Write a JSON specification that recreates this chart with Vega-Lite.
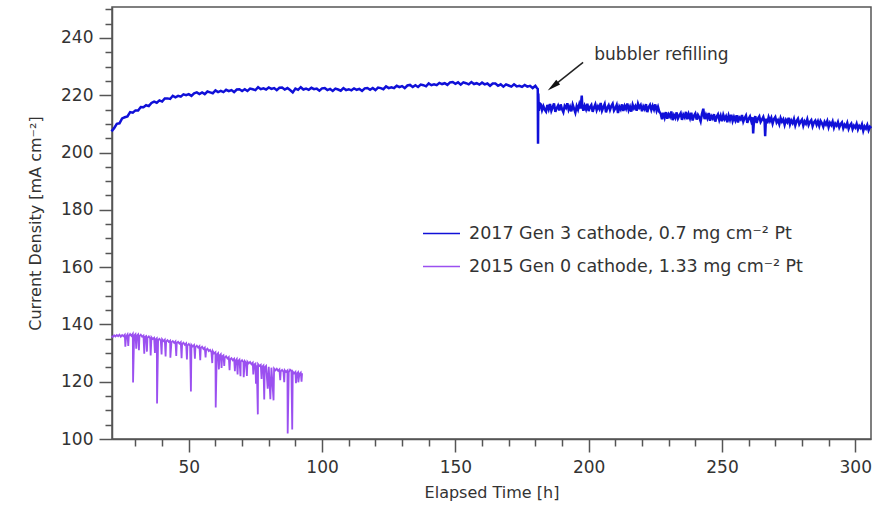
{
  "$schema": "https://vega.github.io/schema/vega-lite/v6.json",
  "width": 759,
  "height": 432,
  "autosize": "none",
  "padding": {"left": 112, "top": 7, "right": 3, "bottom": 68},
  "background": "white",
  "config": {
    "font": "DejaVu Sans",
    "view": {"stroke": "#555555", "strokeWidth": 1.5},
    "axis": {"domainColor": "#555555", "domainWidth": 1.5, "tickColor": "#555555", "tickWidth": 1.5, "grid": false, "labelColor": "#333333", "titleColor": "#333333", "labelFont": "DejaVu Sans", "titleFont": "DejaVu Sans", "titleFontWeight": "normal"}
  },
  "datasets": {
    "gen3": [
      {"t":21,"v":207.4},{"t":22,"v":208.5},{"t":23,"v":210.0},{"t":24,"v":210.2},{"t":25,"v":211.9},{"t":26,"v":212.3},{"t":27,"v":212.6},{"t":28,"v":214.1},{"t":29,"v":213.9},{"t":30,"v":214.7},
      {"t":31,"v":214.7},{"t":32,"v":215.9},{"t":33,"v":215.8},{"t":34,"v":216.5},{"t":35,"v":216.2},{"t":36,"v":217.3},{"t":37,"v":217.8},{"t":38,"v":217.4},{"t":39,"v":218.2},{"t":40,"v":217.8},
      {"t":41,"v":218.9},{"t":42,"v":218.9},{"t":43,"v":218.7},{"t":44,"v":219.8},{"t":45,"v":219.3},{"t":46,"v":219.8},{"t":47,"v":219.5},{"t":48,"v":220.3},{"t":49,"v":220.0},{"t":50,"v":220.4},
      {"t":51,"v":219.8},{"t":52,"v":220.7},{"t":53,"v":221.0},{"t":54,"v":220.4},{"t":55,"v":221.0},{"t":56,"v":220.4},{"t":57,"v":221.3},{"t":58,"v":221.0},{"t":59,"v":220.7},{"t":60,"v":221.7},
      {"t":61,"v":221.1},{"t":62,"v":221.5},{"t":63,"v":221.1},{"t":64,"v":221.9},{"t":65,"v":221.4},{"t":66,"v":221.8},{"t":67,"v":221.1},{"t":68,"v":222.0},{"t":69,"v":222.1},{"t":70,"v":221.5},
      {"t":71,"v":222.1},{"t":72,"v":221.5},{"t":73,"v":222.3},{"t":74,"v":222.1},{"t":75,"v":221.8},{"t":76,"v":222.8},{"t":77,"v":222.1},{"t":78,"v":222.4},{"t":79,"v":222.0},{"t":80,"v":222.7},
      {"t":81,"v":222.2},{"t":82,"v":222.5},{"t":83,"v":221.8},{"t":84,"v":222.6},{"t":85,"v":222.7},{"t":86,"v":222.0},{"t":87,"v":222.5},{"t":88,"v":221.8},{"t":89,"v":221.0},{"t":90,"v":222.3},
      {"t":91,"v":221.9},{"t":92,"v":222.8},{"t":93,"v":222.0},{"t":94,"v":222.3},{"t":95,"v":221.9},{"t":96,"v":222.6},{"t":97,"v":222.1},{"t":98,"v":222.3},{"t":99,"v":221.6},{"t":100,"v":222.4},
      {"t":101,"v":222.5},{"t":102,"v":221.8},{"t":103,"v":222.2},{"t":104,"v":221.5},{"t":105,"v":222.3},{"t":106,"v":222.0},{"t":107,"v":221.6},{"t":108,"v":222.5},{"t":109,"v":221.8},{"t":110,"v":222.1},
      {"t":111,"v":221.7},{"t":112,"v":222.4},{"t":113,"v":221.9},{"t":114,"v":222.2},{"t":115,"v":221.5},{"t":116,"v":222.4},{"t":117,"v":222.5},{"t":118,"v":221.9},{"t":119,"v":222.5},{"t":120,"v":221.8},
      {"t":121,"v":222.7},{"t":122,"v":222.5},{"t":123,"v":222.1},{"t":124,"v":223.1},{"t":125,"v":222.5},{"t":126,"v":222.8},{"t":127,"v":222.5},{"t":128,"v":223.3},{"t":129,"v":222.8},{"t":130,"v":223.2},
      {"t":131,"v":222.5},{"t":132,"v":223.4},{"t":133,"v":223.6},{"t":134,"v":222.9},{"t":135,"v":223.5},{"t":136,"v":222.9},{"t":137,"v":223.7},{"t":138,"v":223.5},{"t":139,"v":223.1},{"t":140,"v":224.1},
      {"t":141,"v":223.5},{"t":142,"v":223.8},{"t":143,"v":223.5},{"t":144,"v":224.3},{"t":145,"v":223.9},{"t":146,"v":224.2},{"t":147,"v":223.6},{"t":148,"v":224.5},{"t":149,"v":224.6},{"t":150,"v":224.0},
      {"t":151,"v":224.5},{"t":152,"v":223.7},{"t":153,"v":224.5},{"t":154,"v":224.2},{"t":155,"v":223.8},{"t":156,"v":224.6},{"t":157,"v":223.9},{"t":158,"v":224.2},{"t":159,"v":223.7},{"t":160,"v":224.4},
      {"t":161,"v":223.8},{"t":162,"v":224.1},{"t":163,"v":223.3},{"t":164,"v":224.1},{"t":165,"v":224.1},{"t":166,"v":223.3},{"t":167,"v":223.8},{"t":168,"v":223.0},{"t":169,"v":223.8},{"t":170,"v":223.4},
      {"t":171,"v":223.0},{"t":172,"v":223.8},{"t":173,"v":223.1},{"t":174,"v":223.3},{"t":175,"v":222.9},{"t":176,"v":223.6},{"t":177,"v":223.0},{"t":178,"v":223.3},{"t":179,"v":222.5},{"t":180,"v":223.3},
      {"t":180.5,"v":222.6},{"t":180.9,"v":222.2},{"t":181.0,"v":203.1},{"t":181.1,"v":220.6},{"t":181.3,"v":214.5},{"t":181.6,"v":217.2},
      {"t":182.0,"v":216.9},{"t":182.5,"v":214.8},{"t":183.0,"v":216.2},{"t":183.5,"v":215.0},{"t":184.0,"v":214.3},{"t":184.5,"v":216.6},{"t":185.0,"v":215.1},{"t":185.5,"v":216.9},{"t":186.0,"v":214.6},{"t":186.5,"v":215.8},
      {"t":187.0,"v":217.1},{"t":187.5,"v":214.2},{"t":188.0,"v":215.5},{"t":188.5,"v":216.4},{"t":189.0,"v":214.7},{"t":189.5,"v":216.8},{"t":190.0,"v":215.2},{"t":190.5,"v":214.1},{"t":191.0,"v":216.3},{"t":191.5,"v":215.6},
      {"t":192.0,"v":217.2},{"t":192.5,"v":214.9},{"t":193.0,"v":216.0},{"t":193.5,"v":214.4},{"t":194.0,"v":216.7},{"t":194.5,"v":215.3},{"t":195.0,"v":213.9},{"t":195.5,"v":216.2},{"t":196.0,"v":215.0},{"t":196.5,"v":216.9},
      {"t":197.0,"v":215.4},{"t":197.4,"v":219.9},{"t":197.6,"v":216.5},{"t":198.0,"v":214.6},{"t":198.5,"v":216.3},{"t":199.0,"v":215.1},{"t":199.5,"v":217.0},{"t":200.0,"v":214.5},{"t":200.5,"v":215.9},
      {"t":201.0,"v":216.6},{"t":201.5,"v":214.2},{"t":202.0,"v":215.7},{"t":202.5,"v":216.8},{"t":203.0,"v":214.8},{"t":203.5,"v":216.1},{"t":204.0,"v":215.2},{"t":204.5,"v":217.3},{"t":205.0,"v":214.6},{"t":205.5,"v":215.8},
      {"t":206.0,"v":216.9},{"t":206.5,"v":214.0},{"t":207.0,"v":215.6},{"t":207.5,"v":216.5},{"t":208.0,"v":214.9},{"t":208.5,"v":216.2},{"t":209.0,"v":217.0},{"t":209.5,"v":214.7},{"t":210.0,"v":215.5},{"t":210.5,"v":216.6},
      {"t":211.0,"v":213.8},{"t":211.5,"v":216.0},{"t":212.0,"v":215.1},{"t":212.5,"v":216.8},{"t":213.0,"v":214.5},{"t":213.5,"v":216.3},{"t":214.0,"v":215.3},{"t":214.5,"v":217.1},{"t":215.0,"v":214.8},{"t":215.5,"v":216.0},
      {"t":216.0,"v":214.3},{"t":216.5,"v":216.7},{"t":217.0,"v":215.4},{"t":217.5,"v":216.2},{"t":218.0,"v":214.6},{"t":218.5,"v":217.0},{"t":219.0,"v":215.7},{"t":219.5,"v":216.5},{"t":220.0,"v":214.4},{"t":220.5,"v":216.1},
      {"t":221.0,"v":215.2},{"t":221.5,"v":216.9},{"t":222.0,"v":214.1},{"t":222.5,"v":215.8},{"t":223.0,"v":216.6},{"t":223.5,"v":214.9},{"t":224.0,"v":216.3},{"t":224.5,"v":215.0},{"t":225.0,"v":216.8},{"t":225.5,"v":214.6},
      {"t":226.0,"v":215.9},{"t":226.5,"v":214.2},{"t":227.0,"v":213.6},{"t":227.5,"v":211.6},{"t":228.0,"v":213.9},{"t":228.5,"v":212.2},{"t":229.0,"v":214.1},{"t":229.5,"v":211.8},{"t":230.0,"v":213.3},{"t":230.5,"v":212.5},
      {"t":231.0,"v":214.3},{"t":231.5,"v":211.3},{"t":232.0,"v":213.0},{"t":232.5,"v":212.1},{"t":233.0,"v":214.0},{"t":233.5,"v":211.9},{"t":234.0,"v":212.9},{"t":234.5,"v":213.7},{"t":235.0,"v":211.4},{"t":235.5,"v":213.2},
      {"t":236.0,"v":212.3},{"t":236.5,"v":214.2},{"t":237.0,"v":211.6},{"t":237.5,"v":213.4},{"t":238.0,"v":212.0},{"t":238.5,"v":213.9},{"t":239.0,"v":211.2},{"t":239.5,"v":212.8},{"t":240.0,"v":213.6},{"t":240.5,"v":211.5},
      {"t":241.0,"v":213.1},{"t":241.5,"v":212.2},{"t":242.0,"v":210.9},{"t":242.5,"v":213.5},{"t":243.0,"v":215.3},{"t":243.3,"v":212.6},{"t":243.5,"v":211.7},{"t":244.0,"v":213.2},{"t":244.5,"v":212.0},{"t":245.0,"v":213.8},
      {"t":245.5,"v":211.1},{"t":246.0,"v":212.7},{"t":246.5,"v":211.9},{"t":247.0,"v":213.4},{"t":247.5,"v":210.8},{"t":248.0,"v":212.5},{"t":248.5,"v":213.3},{"t":249.0,"v":211.4},{"t":249.5,"v":212.8},{"t":250.0,"v":210.9},
      {"t":250.5,"v":213.1},{"t":251.0,"v":211.7},{"t":251.5,"v":212.6},{"t":252.0,"v":210.6},{"t":252.5,"v":212.9},{"t":253.0,"v":211.5},{"t":253.5,"v":213.2},{"t":254.0,"v":211.0},{"t":254.5,"v":212.4},{"t":255.0,"v":211.2},
      {"t":255.5,"v":213.0},{"t":256.0,"v":210.5},{"t":256.5,"v":212.2},{"t":257.0,"v":211.6},{"t":257.5,"v":213.1},{"t":258.0,"v":210.8},{"t":258.5,"v":212.0},{"t":259.0,"v":212.9},{"t":259.5,"v":210.4},{"t":260.0,"v":211.8},
      {"t":260.5,"v":212.6},{"t":261.0,"v":210.9},{"t":261.5,"v":212.3},{"t":261.7,"v":206.7},{"t":262.0,"v":211.2},{"t":262.5,"v":212.7},{"t":263.0,"v":210.3},{"t":263.5,"v":211.9},{"t":264.0,"v":212.6},{"t":264.5,"v":210.7},
      {"t":265.0,"v":211.5},{"t":265.5,"v":212.4},{"t":266.0,"v":210.6},{"t":266.2,"v":205.7},{"t":266.5,"v":211.8},{"t":267.0,"v":210.2},{"t":267.5,"v":212.3},{"t":268.0,"v":211.0},{"t":268.5,"v":212.1},{"t":269.0,"v":210.1},
      {"t":269.5,"v":211.7},{"t":270.0,"v":212.4},{"t":270.5,"v":210.5},{"t":271.0,"v":211.3},{"t":271.5,"v":209.9},{"t":272.0,"v":212.0},{"t":272.5,"v":210.8},{"t":273.0,"v":211.6},{"t":273.5,"v":209.7},{"t":274.0,"v":211.4},
      {"t":274.5,"v":210.6},{"t":275.0,"v":212.1},{"t":275.5,"v":209.8},{"t":276.0,"v":211.2},{"t":276.5,"v":210.3},{"t":277.0,"v":211.7},{"t":277.5,"v":209.5},{"t":278.0,"v":211.0},{"t":278.5,"v":211.8},{"t":279.0,"v":209.9},
      {"t":279.5,"v":210.8},{"t":280.0,"v":211.5},{"t":280.5,"v":209.4},{"t":281.0,"v":210.9},{"t":281.5,"v":210.1},{"t":282.0,"v":211.6},{"t":282.5,"v":209.6},{"t":283.0,"v":210.7},{"t":283.5,"v":211.3},{"t":284.0,"v":209.2},
      {"t":284.5,"v":210.5},{"t":285.0,"v":211.1},{"t":285.5,"v":209.7},{"t":286.0,"v":210.9},{"t":286.5,"v":209.3},{"t":287.0,"v":211.0},{"t":287.5,"v":210.2},{"t":288.0,"v":209.0},{"t":288.5,"v":210.7},{"t":289.0,"v":209.8},
      {"t":289.5,"v":211.0},{"t":290.0,"v":208.9},{"t":290.5,"v":210.4},{"t":291.0,"v":209.6},{"t":291.5,"v":210.8},{"t":292.0,"v":208.7},{"t":292.5,"v":210.1},{"t":293.0,"v":209.4},{"t":293.5,"v":210.6},{"t":294.0,"v":208.8},
      {"t":294.5,"v":209.9},{"t":295.0,"v":210.5},{"t":295.5,"v":208.5},{"t":296.0,"v":209.7},{"t":296.5,"v":209.0},{"t":297.0,"v":210.3},{"t":297.5,"v":208.3},{"t":298.0,"v":209.5},{"t":298.5,"v":210.1},{"t":299.0,"v":208.2},
      {"t":299.5,"v":209.4},{"t":300.0,"v":208.7},{"t":300.5,"v":210.0},{"t":301.0,"v":208.1},{"t":301.5,"v":209.3},{"t":302.0,"v":208.6},{"t":302.5,"v":209.8},{"t":303.0,"v":207.6},{"t":303.5,"v":209.1},{"t":304.0,"v":208.4},
      {"t":304.5,"v":209.6},{"t":305.0,"v":207.8},{"t":305.5,"v":209.0},{"t":306.0,"v":208.5}
    ],
    "gen0": [
      {"t":21.0,"v":136.0},{"t":21.5,"v":135.6},{"t":22.0,"v":136.2},{"t":22.5,"v":135.8},{"t":23.0,"v":136.3},{"t":23.5,"v":135.9},{"t":24.0,"v":136.4},{"t":24.5,"v":135.7},{"t":25.0,"v":136.3},{"t":25.5,"v":135.9},
      {"t":26.0,"v":136.4},{"t":26.2,"v":132.2},{"t":26.5,"v":135.8},{"t":27.0,"v":136.5},{"t":27.3,"v":132.5},{"t":27.5,"v":135.9},{"t":28.0,"v":136.6},{"t":28.5,"v":136.0},{"t":29.0,"v":136.7},{"t":29.1,"v":119.7},
      {"t":29.5,"v":136.1},{"t":30.0,"v":136.6},{"t":30.3,"v":131.5},{"t":30.5,"v":136.0},{"t":31.0,"v":136.5},{"t":31.3,"v":131.0},{"t":31.5,"v":135.9},{"t":32.0,"v":136.4},{"t":32.5,"v":135.7},{"t":33.0,"v":136.1},
      {"t":33.3,"v":129.8},{"t":33.5,"v":135.6},{"t":34.0,"v":135.9},{"t":34.3,"v":130.5},{"t":34.5,"v":135.4},{"t":35.0,"v":135.8},{"t":35.5,"v":135.1},{"t":35.7,"v":129.2},{"t":36.0,"v":135.5},{"t":36.5,"v":134.9},
      {"t":37.0,"v":135.3},{"t":37.3,"v":130.0},{"t":37.5,"v":134.8},{"t":38.0,"v":135.2},{"t":38.1,"v":112.4},{"t":38.5,"v":134.6},{"t":39.0,"v":135.0},{"t":39.5,"v":134.3},{"t":39.8,"v":129.5},{"t":40.0,"v":134.8},
      {"t":40.5,"v":134.2},{"t":41.0,"v":134.7},{"t":41.3,"v":128.8},{"t":41.5,"v":134.0},{"t":42.0,"v":134.5},{"t":42.5,"v":133.9},{"t":43.0,"v":134.3},{"t":43.1,"v":128.4},{"t":43.5,"v":133.8},{"t":44.0,"v":134.2},
      {"t":44.5,"v":133.6},{"t":45.0,"v":134.1},{"t":45.3,"v":129.0},{"t":45.5,"v":133.5},{"t":46.0,"v":133.9},{"t":46.5,"v":133.3},{"t":47.0,"v":133.8},{"t":47.3,"v":128.2},{"t":47.5,"v":133.1},{"t":48.0,"v":133.6},
      {"t":48.5,"v":132.9},{"t":49.0,"v":133.4},{"t":49.3,"v":127.8},{"t":49.5,"v":132.7},{"t":50.0,"v":133.2},{"t":50.5,"v":132.5},{"t":50.8,"v":116.6},{"t":51.0,"v":132.9},{"t":51.5,"v":132.3},{"t":52.0,"v":132.8},
      {"t":52.3,"v":128.0},{"t":52.5,"v":132.1},{"t":53.0,"v":132.6},{"t":53.5,"v":131.9},{"t":54.0,"v":132.4},{"t":54.3,"v":127.5},{"t":54.5,"v":131.7},{"t":55.0,"v":132.2},{"t":55.5,"v":131.4},{"t":56.0,"v":131.9},
      {"t":56.3,"v":128.5},{"t":56.5,"v":131.1},{"t":57.0,"v":131.5},{"t":57.5,"v":130.7},{"t":58.0,"v":131.1},{"t":58.5,"v":130.3},{"t":58.8,"v":126.5},{"t":59.0,"v":130.7},{"t":59.5,"v":129.9},{"t":60.0,"v":130.3},
      {"t":60.1,"v":111.0},{"t":60.5,"v":129.5},{"t":61.0,"v":130.0},{"t":61.3,"v":124.3},{"t":61.5,"v":129.1},{"t":62.0,"v":129.6},{"t":62.3,"v":124.8},{"t":62.5,"v":128.8},{"t":63.0,"v":129.2},{"t":63.3,"v":125.5},
      {"t":63.5,"v":128.4},{"t":64.0,"v":128.9},{"t":64.5,"v":128.1},{"t":65.0,"v":128.6},{"t":65.3,"v":124.0},{"t":65.5,"v":127.8},{"t":66.0,"v":128.2},{"t":66.5,"v":127.5},{"t":67.0,"v":128.0},{"t":67.3,"v":123.7},
      {"t":67.5,"v":127.3},{"t":68.0,"v":127.9},{"t":68.3,"v":122.5},{"t":68.5,"v":127.2},{"t":69.0,"v":127.7},{"t":69.4,"v":121.9},{"t":69.5,"v":127.0},{"t":70.0,"v":127.5},{"t":70.5,"v":126.8},{"t":70.6,"v":121.6},
      {"t":71.0,"v":127.2},{"t":71.5,"v":126.6},{"t":71.8,"v":122.0},{"t":72.0,"v":127.0},{"t":72.5,"v":126.4},{"t":73.0,"v":126.9},{"t":73.5,"v":126.1},{"t":74.0,"v":126.6},{"t":74.2,"v":122.5},{"t":74.5,"v":125.9},
      {"t":75.0,"v":126.3},{"t":75.2,"v":119.3},{"t":75.5,"v":125.7},{"t":75.9,"v":108.6},{"t":76.0,"v":126.1},{"t":76.5,"v":125.5},{"t":77.0,"v":125.9},{"t":77.3,"v":121.0},{"t":77.5,"v":125.2},{"t":78.0,"v":125.7},
      {"t":78.3,"v":113.8},{"t":78.5,"v":125.0},{"t":79.0,"v":125.5},{"t":79.6,"v":117.6},{"t":80.0,"v":125.2},{"t":80.6,"v":113.9},{"t":81.0,"v":124.9},{"t":81.8,"v":113.5},{"t":82.0,"v":124.6},{"t":82.5,"v":124.0},
      {"t":83.0,"v":124.5},{"t":83.5,"v":123.8},{"t":84.0,"v":124.3},{"t":84.3,"v":120.5},{"t":84.5,"v":123.6},{"t":85.0,"v":124.1},{"t":85.5,"v":123.5},{"t":85.8,"v":119.8},{"t":86.0,"v":124.0},{"t":86.5,"v":123.4},
      {"t":87.0,"v":123.9},{"t":87.1,"v":101.9},{"t":87.5,"v":123.3},{"t":88.0,"v":124.2},{"t":88.5,"v":123.8},{"t":88.8,"v":103.3},{"t":89.0,"v":123.5},{"t":89.5,"v":122.9},{"t":90.0,"v":123.4},{"t":90.2,"v":119.5},
      {"t":90.5,"v":122.8},{"t":91.0,"v":123.3},{"t":91.1,"v":119.8},{"t":91.5,"v":122.7},{"t":92.0,"v":123.2},{"t":92.3,"v":120.0},{"t":92.5,"v":123.0}
    ],
    "arrow": [{"t":197.9,"v":231.5,"t2":186.6,"v2":223.1}],
    "label": [{"t":202.1,"v":234.0,"text":"bubbler refilling"}]
  },
  "layer": [
    {
      "data": {"name": "gen3"},
      "mark": {"type": "line", "strokeWidth": 2.5, "interpolate": "linear"},
      "encoding": {
        "x": {"field": "t", "type": "quantitative", "scale": {"domain": [21.2, 305.9], "nice": false, "zero": false},
              "axis": {"orient": "bottom", "values": [50, 100, 150, 200, 250, 300], "tickSize": 13, "labelFontSize": 17, "labelPadding": 7, "title": "Elapsed Time [h]", "titleFontSize": 16, "titlePadding": 9}},
        "y": {"field": "v", "type": "quantitative", "scale": {"domain": [100, 250.8], "nice": false, "zero": false},
              "axis": {"orient": "left", "values": [100, 120, 140, 160, 180, 200, 220, 240], "tickSize": 13, "labelFontSize": 17, "labelPadding": 6, "title": "Current Density [mA cm⁻²]", "titleFontSize": 16, "titlePadding": 17}},
        "color": {"datum": "2017 Gen 3 cathode, 0.7 mg cm⁻² Pt", "type": "nominal",
                  "scale": {"domain": ["2017 Gen 3 cathode, 0.7 mg cm⁻² Pt", "2015 Gen 0 cathode, 1.33 mg cm⁻² Pt"], "range": ["#1010d8", "#9b50f0"]},
                  "legend": {"title": null, "orient": "none", "legendX": 310, "legendY": 207, "symbolType": "stroke", "symbolSize": 1369, "symbolStrokeWidth": 1.5, "labelFontSize": 17.5, "labelColor": "#333333", "labelOffset": 8, "rowPadding": 5, "labelLimit": 500}}
      }
    },
    {
      "data": {"name": "gen0"},
      "mark": {"type": "line", "strokeWidth": 1.8},
      "encoding": {
        "x": {"field": "t", "type": "quantitative",
              "axis": {"orient": "bottom", "values": [30, 40, 60, 70, 80, 90, 110, 120, 130, 140, 160, 170, 180, 190, 210, 220, 230, 240, 260, 270, 280, 290], "tickSize": 7, "labels": false, "domain": false, "title": null}},
        "y": {"field": "v", "type": "quantitative",
              "axis": {"orient": "left", "values": [105, 110, 115, 125, 130, 135, 145, 150, 155, 165, 170, 175, 185, 190, 195, 205, 210, 215, 225, 230, 235, 245, 250], "tickSize": 7, "labels": false, "domain": false, "title": null}},
        "color": {"datum": "2015 Gen 0 cathode, 1.33 mg cm⁻² Pt", "type": "nominal"}
      }
    },
    {
      "data": {"name": "arrow"},
      "mark": {"type": "rule", "color": "#222222", "strokeWidth": 1.5},
      "encoding": {
        "x": {"field": "t", "type": "quantitative", "axis": null},
        "y": {"field": "v", "type": "quantitative", "axis": null},
        "x2": {"field": "t2"},
        "y2": {"field": "v2"}
      }
    },
    {
      "data": {"name": "arrow"},
      "mark": {"type": "point", "shape": "M0,-1L0.45,1L-0.45,1Z", "filled": true, "color": "#111111", "size": 180, "angle": 231, "opacity": 1},
      "encoding": {
        "x": {"field": "t2", "type": "quantitative", "axis": null},
        "y": {"field": "v2", "type": "quantitative", "axis": null}
      }
    },
    {
      "data": {"name": "label"},
      "mark": {"type": "text", "align": "left", "baseline": "middle", "fontSize": 17, "color": "#333333", "font": "DejaVu Sans"},
      "encoding": {
        "x": {"field": "t", "type": "quantitative", "axis": null},
        "y": {"field": "v", "type": "quantitative", "axis": null},
        "text": {"field": "text"}
      }
    }
  ],
  "resolve": {"axis": {"x": "independent", "y": "independent"}}
}
